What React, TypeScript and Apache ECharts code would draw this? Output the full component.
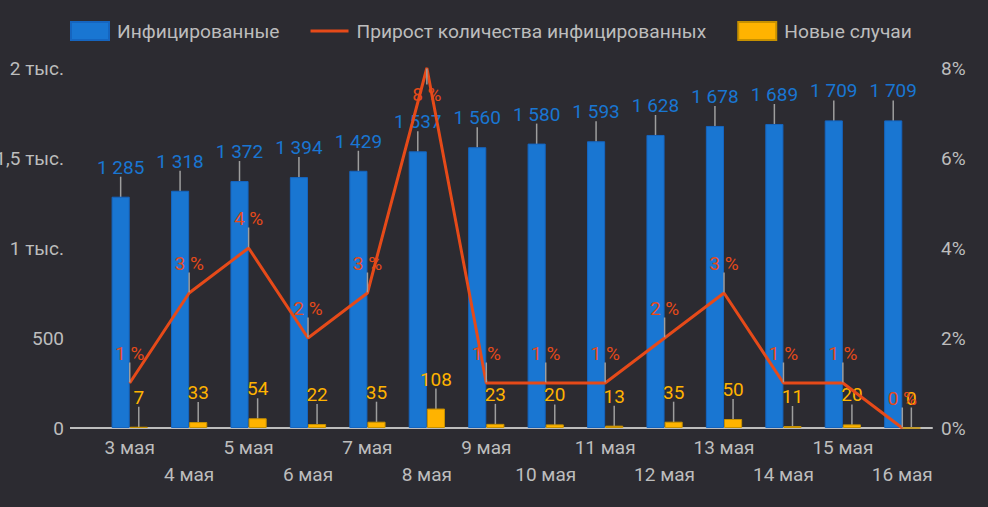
import React, { useEffect, useRef } from "react";
import * as echarts from "echarts";

const categories = ["3 мая", "4 мая", "5 мая", "6 мая", "7 мая", "8 мая", "9 мая", "10 мая", "11 мая", "12 мая", "13 мая", "14 мая", "15 мая", "16 мая"];
const infected = [1285, 1318, 1372, 1394, 1429, 1537, 1560, 1580, 1593, 1628, 1678, 1689, 1709, 1709];
const growthPct = [1, 3, 4, 2, 3, 8, 1, 1, 1, 2, 3, 1, 1, 0];
const newCases = [7, 33, 54, 22, 35, 108, 23, 20, 13, 35, 50, 11, 20, 0];
const leftTicks = [0, 500, 1000, 1500, 2000];
const rightTicks = [0, 2, 4, 6, 8];

const BG = "#2c2b31";
const TXT = "#bdbdbd";
const BLUE = "#1976d2";
const AMBER = "#ffb300";
const ORANGE = "#e64a19";
const FONT = "Roboto, 'Noto Sans', sans-serif";
const FS = 19;

const fmtNum = (v: number) => String(v).replace(/\B(?=(\d{3})+(?!\d))/g, " ");
const fmtLeft = (v: number) => (v >= 1000 ? String(v / 1000).replace(".", ",") + " тыс." : String(v));

export default function App() {
  const ref = useRef<HTMLDivElement>(null);
  useEffect(() => {
    document.body.style.margin = "0";
    document.body.style.background = BG;
    const chart = echarts.init(ref.current!, null, { renderer: "svg" });
    const maxPct = Math.max(...growthPct);
    const leaderLine = { show: true, lineStyle: { color: "#9e9e9e", width: 1.5 } };
    chart.setOption({
      animation: false,
      backgroundColor: BG,
      textStyle: { fontFamily: FONT },
      legend: {
        top: 16,
        left: 65,
        itemWidth: 38,
        itemHeight: 18,
        itemGap: 31,
        textStyle: { color: TXT, fontSize: 19.2, fontFamily: FONT, padding: [0, 0, 0, 3] },
        data: [
          { name: "Инфицированные", icon: "rect" },
          {
            name: "Прирост количества инфицированных",
            icon: "path://M0,0L0.01,0Z M0,7.5L38,7.5L38,10.5L0,10.5Z M0,18L0.01,18Z",
          },
          { name: "Новые случаи", icon: "rect" },
        ],
      },
      grid: { left: 100, right: 56, top: 68, bottom: 79, outerBoundsMode: "none", containLabel: false },
      xAxis: {
        type: "category",
        data: categories,
        axisLine: { lineStyle: { color: "#bdbdbd", width: 2 } },
        axisTick: { show: false },
        axisLabel: {
          interval: 0,
          color: TXT,
          fontSize: FS,
          fontFamily: FONT,
          margin: 6,
          lineHeight: 27,
          formatter: (v: string, i: number) => (i % 2 ? "\n" + v : v),
        },
      },
      yAxis: [
        {
          type: "value",
          min: leftTicks[0],
          max: leftTicks[leftTicks.length - 1],
          interval: leftTicks[1] - leftTicks[0],
          splitLine: { show: false },
          axisLine: { show: false },
          axisTick: { show: false },
          axisLabel: { color: TXT, fontSize: FS, fontFamily: FONT, margin: 36, formatter: fmtLeft },
        },
        {
          type: "value",
          min: rightTicks[0],
          max: rightTicks[rightTicks.length - 1],
          interval: rightTicks[1] - rightTicks[0],
          splitLine: { show: false },
          axisLine: { show: false },
          axisTick: { show: false },
          axisLabel: { color: TXT, fontSize: FS, fontFamily: FONT, margin: 9, formatter: (v: number) => v + "%" },
        },
      ],
      graphic: [
        { type: "line", shape: { x1: 70, y1: 428, x2: 101, y2: 428 }, style: { stroke: "#bdbdbd", lineWidth: 2 } },
      ],
      series: [
        {
          name: "Инфицированные",
          type: "bar",
          data: infected,
          barGap: "0%",
          barCategoryGap: "39%",
          itemStyle: { color: BLUE, borderColor: "#1565c0", borderWidth: 1 },
          label: {
            show: true,
            position: "top",
            distance: 2,
            color: BLUE,
            fontSize: FS,
            fontFamily: FONT,
            formatter: (p: any) => fmtNum(p.value),
          },
          labelLayout: { dy: -18 },
          labelLine: leaderLine,
        },
        {
          name: "Прирост количества инфицированных",
          type: "line",
          yAxisIndex: 1,
          z: 3,
          data: growthPct,
          symbol: "circle",
          symbolSize: 1,
          itemStyle: { color: ORANGE },
          lineStyle: { color: ORANGE, width: 3 },
          label: {
            show: true,
            color: ORANGE,
            fontSize: FS,
            fontFamily: FONT,
            distance: 2,
            position: "top",
            formatter: (p: any) => p.value + " %",
          },
          labelLayout: (p: any) => ({ dy: growthPct[p.dataIndex] === maxPct ? 38 : -18 }),
          labelLine: leaderLine,
        },
        {
          name: "Новые случаи",
          type: "bar",
          data: newCases,
          itemStyle: { color: AMBER, borderColor: "#c79100", borderWidth: 1 },
          label: {
            show: true,
            position: "top",
            distance: 2,
            color: AMBER,
            fontSize: FS,
            fontFamily: FONT,
            formatter: (p: any) => fmtNum(p.value),
          },
          labelLayout: { dy: -18 },
          labelLine: leaderLine,
        },
      ],
    });
    return () => chart.dispose();
  }, []);
  return <div ref={ref} style={{ width: 988, height: 507 }} />;
}
